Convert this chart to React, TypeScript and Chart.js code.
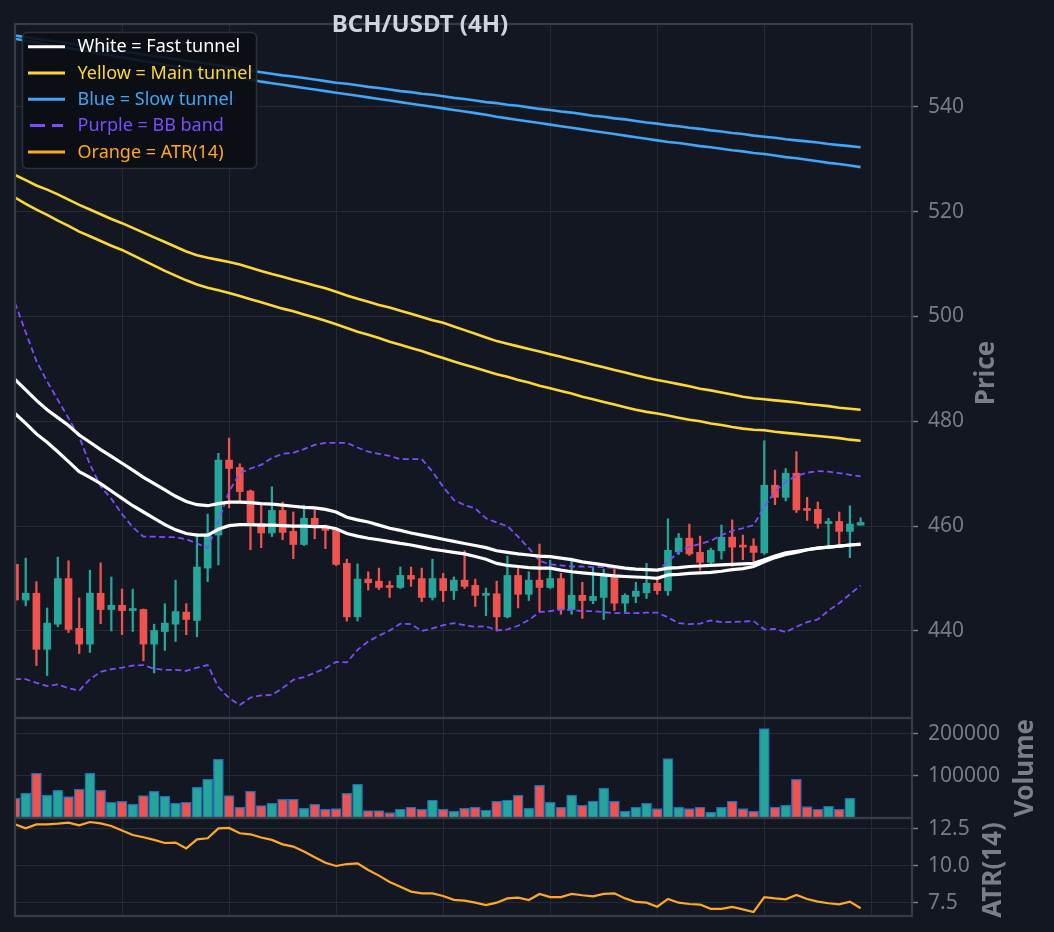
import React, { useEffect, useRef } from "react";
import { Chart, registerables } from "chart.js";

Chart.register(...registerables);

// ---------------- DATA ----------------
const OPEN = [452.7, 445.9, 447.2, 436.5, 441.3, 450.0, 440.5, 437.5, 447.2, 444.1,
  444.9, 443.9, 444.1, 437.5, 439.9, 441.3, 443.6, 442.0, 452.0, 458.3,
  472.6, 471.2, 466.7, 460.5, 458.7, 463.0, 459.0, 456.5, 461.5, 460.0,
  459.4, 452.9, 442.7, 449.9, 449.5, 448.6, 448.3, 450.6, 450.0, 446.4,
  450.0, 447.7, 449.7, 448.7, 446.8, 447.1, 442.7, 450.6, 447.0, 449.7,
  448.3, 450.0, 444.1, 446.8, 445.8, 446.4, 450.4, 445.3, 446.6, 447.3,
  449.1, 447.7, 455.1, 457.7, 455.0, 453.1, 455.3, 457.9, 456.2, 456.2,
  454.9, 467.8, 465.5, 470.1, 463.2, 463.2, 460.5, 460.9, 459.0, 460.2];
const HIGH = [453.5, 453.9, 449.4, 444.4, 454.1, 453.4, 446.3, 451.6, 453.0, 450.3,
  448.0, 448.0, 444.2, 441.3, 445.2, 449.7, 445.2, 458.6, 462.3, 473.9,
  476.8, 471.9, 466.9, 464.0, 467.5, 464.6, 462.7, 464.0, 463.1, 460.2,
  459.6, 453.7, 452.8, 451.3, 452.0, 449.5, 452.2, 452.2, 452.0, 453.7,
  451.0, 450.3, 455.3, 449.9, 448.2, 449.5, 454.3, 452.2, 451.3, 456.6,
  453.5, 451.0, 453.9, 449.3, 452.0, 451.8, 452.0, 447.1, 449.3, 452.9,
  450.4, 461.4, 458.6, 460.4, 458.1, 455.8, 460.2, 461.2, 458.3, 457.6,
  476.3, 470.7, 471.0, 474.2, 465.5, 464.6, 461.5, 462.7, 463.9, 461.6];
const LOW = [445.0, 444.8, 433.4, 431.5, 440.8, 439.7, 435.7, 435.9, 441.4, 440.0,
  439.3, 439.9, 434.3, 432.0, 436.3, 438.0, 439.3, 438.9, 449.4, 452.6,
  463.5, 464.7, 455.5, 455.9, 458.0, 457.4, 453.8, 456.3, 457.6, 455.7,
  452.5, 441.9, 441.9, 447.8, 447.9, 446.4, 448.1, 448.5, 445.6, 445.9,
  445.6, 446.0, 448.1, 444.7, 442.9, 440.2, 442.5, 444.4, 445.8, 443.7,
  448.1, 443.2, 443.2, 442.4, 445.2, 442.2, 443.9, 443.6, 445.4, 446.2,
  447.0, 446.8, 454.6, 454.4, 451.6, 452.7, 453.7, 452.3, 453.6, 453.2,
  454.6, 464.1, 464.8, 462.6, 461.1, 459.6, 456.2, 456.5, 454.0, 460.2];
const CLOSE = [445.9, 447.2, 436.5, 441.5, 450.0, 440.3, 437.5, 447.2, 444.1, 444.9,
  443.9, 444.2, 437.5, 440.1, 441.5, 443.7, 442.2, 452.2, 458.5, 472.6,
  471.0, 466.6, 460.5, 458.7, 463.0, 458.8, 456.5, 461.5, 459.8, 459.2,
  452.7, 442.7, 449.9, 449.2, 448.3, 448.3, 450.6, 449.9, 446.4, 450.0,
  447.7, 449.7, 448.5, 446.8, 447.1, 442.7, 450.6, 447.0, 449.7, 448.3,
  450.0, 444.1, 446.8, 445.8, 446.6, 450.6, 445.3, 446.8, 447.6, 449.1,
  447.7, 455.4, 457.7, 454.7, 453.1, 455.4, 457.9, 456.0, 456.0, 455.0,
  467.8, 465.5, 470.1, 463.1, 463.0, 460.5, 460.9, 459.0, 460.4, 460.7];

const VOLUME = [46800, 58700, 106400, 54000, 65900, 50800, 68300, 106400, 65900, 37300,
  39700, 32500, 53200, 63500, 51600, 34900, 37300, 73000, 92100, 139700,
  53200, 25400, 63500, 29400, 34900, 44400, 44400, 23000, 32500, 20600,
  22200, 58700, 80200, 17500, 17500, 12700, 21400, 25400, 20600, 42900,
  20600, 15900, 23000, 25400, 19000, 39700, 42900, 54000, 23000, 77800,
  37300, 25400, 54000, 30200, 40500, 70600, 39700, 15900, 25400, 34900,
  22200, 141300, 25400, 22200, 25400, 13500, 25400, 39700, 22200, 15900,
  212700, 25400, 30200, 92100, 27000, 20600, 27800, 20600, 46800, 1200];

const ATR = [12.81, 12.54, 12.81, 12.81, 12.86, 12.93, 12.75, 12.97, 12.88, 12.70,
  12.39, 12.09, 11.94, 11.76, 11.55, 11.58, 11.19, 11.80, 11.87, 12.54,
  12.57, 12.21, 12.14, 11.92, 11.76, 11.46, 11.31, 10.97, 10.59, 10.22,
  10.00, 10.13, 10.18, 9.73, 9.35, 8.92, 8.60, 8.27, 8.15, 8.15,
  7.97, 7.71, 7.66, 7.52, 7.36, 7.52, 7.81, 7.86, 7.70, 8.11,
  7.90, 7.90, 8.11, 8.02, 7.95, 8.11, 8.15, 7.81, 7.57, 7.52,
  7.25, 7.77, 7.52, 7.43, 7.39, 7.10, 7.10, 7.23, 7.07, 6.89,
  7.90, 7.81, 7.75, 8.04, 7.77, 7.59, 7.48, 7.41, 7.59, 7.14];

const FAST_UP = [488.0, 486.0, 484.0, 482.2, 480.7, 479.2, 477.4, 476.0, 474.6, 473.3,
  472.0, 470.7, 469.3, 468.1, 466.9, 465.7, 464.7, 464.1, 463.9, 464.3,
  464.6, 464.6, 464.5, 464.3, 464.2, 464.0, 463.8, 463.6, 463.5, 463.2,
  462.7, 461.7, 461.2, 460.8, 460.2, 459.6, 459.2, 458.7, 458.3, 457.9,
  457.5, 457.1, 456.7, 456.3, 455.9, 455.3, 455.0, 454.7, 454.5, 454.3,
  454.2, 453.9, 453.6, 453.2, 452.9, 452.6, 452.3, 452.0, 451.8, 451.7,
  451.6, 452.0, 452.1, 452.3, 452.4, 452.5, 452.6, 452.7, 452.8, 452.9,
  453.6, 454.3, 454.9, 455.2, 455.5, 455.8, 456.0, 456.2, 456.4, 456.6];
const FAST_LO = [481.5, 479.6, 477.6, 476.0, 474.2, 472.3, 470.4, 469.3, 468.1, 466.7,
  465.3, 463.9, 462.7, 461.5, 460.3, 459.3, 458.6, 458.3, 458.3, 459.4,
  460.1, 460.3, 460.3, 460.2, 460.2, 460.1, 460.0, 460.0, 459.9, 459.9,
  459.5, 458.6, 458.1, 457.7, 457.4, 457.05, 456.7, 456.4, 456.0, 455.6,
  455.3, 455.0, 454.7, 454.2, 453.7, 452.9, 452.5, 452.3, 452.1, 452.0,
  452.0, 451.6, 451.3, 451.1, 450.9, 450.7, 450.5, 450.4, 450.3, 450.2,
  450.05, 450.7, 450.8, 451.0, 451.1, 451.2, 451.4, 451.7, 451.9, 452.3,
  453.2, 454.0, 454.6, 455.0, 455.5, 455.8, 456.0, 456.2, 456.4, 456.5];

const MAIN_UP = [527.0, 526.0, 525.0, 524.2, 523.3, 522.3, 521.3, 520.4, 519.5, 518.6,
  517.8, 516.9, 516.0, 515.1, 514.2, 513.3, 512.4, 511.7, 511.2, 510.8,
  510.4, 509.9, 509.3, 508.7, 508.1, 507.6, 507.0, 506.5, 505.9, 505.4,
  504.7, 504.0, 503.4, 502.8, 502.2, 501.7, 501.1, 500.5, 499.9, 499.3,
  498.8, 498.1, 497.4, 496.7, 496.0, 495.3, 494.8, 494.3, 493.8, 493.3,
  492.8, 492.3, 491.8, 491.3, 490.8, 490.3, 489.8, 489.3, 488.8, 488.3,
  487.9, 487.5, 487.1, 486.7, 486.2, 485.9, 485.5, 485.1, 484.7, 484.4,
  484.2, 484.0, 483.8, 483.6, 483.3, 483.1, 482.9, 482.6, 482.4, 482.2];
const MAIN_LO = [522.7, 521.5, 520.4, 519.4, 518.3, 517.3, 516.2, 515.3, 514.4, 513.5,
  512.7, 511.7, 510.7, 509.7, 508.7, 507.8, 506.9, 506.1, 505.5, 505.0,
  504.5, 503.9, 503.3, 502.7, 502.1, 501.5, 501.0, 500.4, 499.8, 499.2,
  498.5, 497.8, 497.1, 496.5, 495.9, 495.2, 494.6, 494.0, 493.4, 492.7,
  492.1, 491.4, 490.8, 490.2, 489.6, 489.0, 488.5, 487.9, 487.4, 486.8,
  486.3, 485.8, 485.3, 484.7, 484.2, 483.7, 483.2, 482.7, 482.2, 481.8,
  481.5, 481.1, 480.7, 480.3, 480.0, 479.6, 479.3, 478.9, 478.6, 478.4,
  478.3, 478.0, 477.8, 477.6, 477.4, 477.2, 477.0, 476.8, 476.5, 476.3];

const SLOW_UP = [553.6, 553.3, 553.0, 552.7, 552.4, 552.1, 551.8, 551.5, 551.2, 550.9,
  550.6, 550.3, 550.0, 549.7, 549.4, 549.1, 548.8, 548.5, 548.2, 547.9,
  547.6, 547.2, 546.9, 546.6, 546.3, 546.0, 545.8, 545.5, 545.2, 544.9,
  544.6, 544.4, 544.1, 543.8, 543.6, 543.3, 543.0, 542.8, 542.5, 542.3,
  542.0, 541.7, 541.5, 541.2, 540.9, 540.7, 540.4, 540.2, 539.9, 539.6,
  539.4, 539.1, 538.9, 538.6, 538.3, 538.1, 537.8, 537.6, 537.3, 537.0,
  536.8, 536.5, 536.3, 536.0, 535.8, 535.5, 535.3, 535.0, 534.8, 534.5,
  534.3, 534.1, 533.8, 533.6, 533.4, 533.2, 532.9, 532.7, 532.5, 532.3];
const SLOW_LO = [553.0, 552.6, 552.3, 551.9, 551.6, 551.2, 550.9, 550.5, 550.1, 549.8,
  549.4, 549.1, 548.7, 548.4, 548.0, 547.7, 547.3, 547.0, 546.6, 546.2,
  545.9, 545.5, 545.2, 544.8, 544.5, 544.2, 543.9, 543.6, 543.3, 543.0,
  542.7, 542.4, 542.1, 541.8, 541.5, 541.2, 540.9, 540.6, 540.3, 540.0,
  539.7, 539.4, 539.1, 538.8, 538.5, 538.1, 537.8, 537.5, 537.2, 536.9,
  536.6, 536.3, 536.0, 535.7, 535.4, 535.1, 534.8, 534.5, 534.2, 533.9,
  533.6, 533.3, 533.1, 532.8, 532.5, 532.3, 532.0, 531.7, 531.5, 531.2,
  531.0, 530.7, 530.4, 530.2, 529.9, 529.6, 529.3, 529.1, 528.8, 528.5];

const BB_UP = [502.6, 497.0, 491.5, 487.6, 484.1, 480.6, 477.0, 471.8, 467.6, 465.2,
  462.3, 459.8, 458.0, 458.0, 457.9, 457.9, 457.5, 456.7, 455.8, 460.9,
  466.6, 470.1, 471.0, 471.7, 473.0, 473.8, 474.0, 474.7, 475.5, 475.9,
  475.9, 475.9, 475.0, 474.2, 473.8, 473.4, 472.8, 472.8, 472.8, 470.4,
  467.5, 465.0, 464.0, 463.4, 461.5, 460.7, 460.0, 458.0, 455.8, 453.4,
  452.7, 452.5, 452.3, 452.3, 452.2, 452.2, 452.0, 451.8, 451.6, 451.6,
  451.6, 453.2, 455.1, 456.1, 456.6, 457.2, 458.3, 459.1, 459.6, 460.2,
  463.7, 466.6, 468.5, 469.6, 470.2, 470.5, 470.4, 470.1, 469.8, 469.5];
const BB_LO = [430.8, 430.8, 430.1, 429.5, 429.8, 429.1, 428.6, 430.8, 432.2, 432.7,
  433.0, 433.4, 433.5, 432.8, 432.6, 432.6, 432.4, 433.0, 433.5, 429.3,
  427.2, 425.9, 427.3, 427.7, 427.8, 429.1, 430.7, 431.2, 432.0, 432.9,
  434.1, 434.0, 436.4, 438.0, 439.1, 440.1, 441.4, 441.3, 440.0, 440.5,
  441.1, 441.5, 441.1, 440.8, 440.9, 440.1, 440.3, 441.0, 442.1, 443.6,
  443.8, 444.1, 444.0, 443.8, 443.8, 443.6, 443.4, 443.4, 443.4, 443.5,
  443.5, 442.6, 441.5, 441.3, 441.4, 442.0, 441.7, 441.7, 441.8, 441.9,
  440.3, 440.4, 439.8, 440.8, 441.7, 442.2, 443.9, 445.3, 447.0, 448.7];

const PRICE_TICKS = [440, 460, 480, 500, 520, 540];
const VOLUME_TICKS = [100000, 200000];
const ATR_TICKS = [7.5, 10.0, 12.5];
const X_GRID = [10, 20, 30, 40, 50, 60, 70, 80];

const TITLE = "BCH/USDT (4H)";
const LEGEND_LABELS = [
  "White = Fast tunnel",
  "Yellow = Main tunnel",
  "Blue = Slow tunnel",
  "Purple = BB band",
  "Orange = ATR(14)",
];

// ---------------- STYLE ----------------
const FONT = "'Noto Sans', 'DejaVu Sans', sans-serif";
const BG = "#131722";
const GRID = "#262a35";
const SPINE = "#383c47";
const TICK = "#787b86";
const AXIS_TITLE = "#7b7e88";
const TEAL = "#26a69a";
const RED = "#ef5350";
const WHITE = "#ffffff";
const YELLOW = "#fdd835";
const BLUE = "#42a5f5";
const PURPLE = "#7c4dff";
const ORANGE = "#ffa726";
const VOL_EDGE = "#1f6fb8";
const LEGEND_COLORS = [WHITE, YELLOW, BLUE, PURPLE, ORANGE];

const X_MIN = 0;
const X_MAX = 83.8;

const IDX = OPEN.map((_, i) => i);
const UP = IDX.map((i) => CLOSE[i] >= OPEN[i]);
const CANDLE_COLORS = UP.map((u) => (u ? TEAL : RED));

function xScale(): any {
  return {
    type: "linear",
    min: X_MIN,
    max: X_MAX,
    offset: false,
    afterBuildTicks: (s: any) => {
      s.ticks = X_GRID.map((v) => ({ value: v }));
    },
    ticks: { display: false },
    grid: { color: GRID, lineWidth: 1, drawTicks: false, offset: false },
    border: { display: false },
    afterFit: (s: any) => {
      s.height = 0;
      s.paddingLeft = 0;
      s.paddingRight = 0;
    },
  };
}

function yScale(min: number, max: number, ticks: number[], fmt: (v: number) => string): any {
  return {
    position: "right",
    min,
    max,
    afterBuildTicks: (s: any) => {
      s.ticks = ticks.map((v) => ({ value: v }));
    },
    ticks: {
      color: TICK,
      font: { family: FONT, size: 21 },
      padding: 10,
      callback: (v: any) => fmt(Number(v)),
    },
    grid: { color: GRID, lineWidth: 1, tickColor: TICK, tickLength: 6, tickWidth: 1.5 },
    border: { display: false },
    afterFit: (s: any) => {
      s.width = 142;
      s.paddingTop = 0;
      s.paddingBottom = 0;
    },
  };
}

function framePlugin(label: string, lx: number, ly: number, extra?: (ctx: CanvasRenderingContext2D) => void): any {
  return {
    id: "frame",
    afterDraw(chart: any) {
      const { ctx, chartArea: a } = chart;
      ctx.save();
      ctx.strokeStyle = SPINE;
      ctx.lineWidth = 2.2;
      ctx.strokeRect(a.left, a.top, a.right - a.left, a.bottom - a.top);
      ctx.translate(lx, ly);
      ctx.rotate(-Math.PI / 2);
      ctx.fillStyle = AXIS_TITLE;
      ctx.font = `bold 26px ${FONT}`;
      ctx.textAlign = "center";
      ctx.textBaseline = "middle";
      ctx.fillText(label, 0, 0);
      ctx.restore();
      if (extra) {
        ctx.save();
        extra(ctx);
        ctx.restore();
      }
    },
  };
}

const legendPlugin: any = {
  id: "customLegend",
  afterDatasetsDraw(chart: any) {
    const ctx: CanvasRenderingContext2D = chart.ctx;
    ctx.save();
    ctx.beginPath();
    (ctx as any).roundRect(22.5, 32.5, 234, 136, 5);
    ctx.fillStyle = "rgba(11,13,19,0.9)";
    ctx.fill();
    ctx.strokeStyle = "#2c303b";
    ctx.lineWidth = 1.5;
    ctx.stroke();
    LEGEND_LABELS.forEach((lab, k) => {
      const y = 46.7 + k * 26.3;
      ctx.strokeStyle = LEGEND_COLORS[k];
      ctx.lineWidth = 3;
      ctx.beginPath();
      if (k === 3) {
        ctx.setLineDash([15, 7]);
        ctx.moveTo(30, y);
        ctx.lineTo(63, y);
      } else {
        ctx.setLineDash([]);
        ctx.moveTo(28, y);
        ctx.lineTo(65, y);
      }
      ctx.stroke();
      ctx.setLineDash([]);
      ctx.fillStyle = LEGEND_COLORS[k];
      ctx.font = `18px ${FONT}`;
      ctx.textAlign = "left";
      ctx.textBaseline = "middle";
      ctx.fillText(lab, 77.5, y + 0.5);
    });
    ctx.restore();
  },
};

function lineDs(values: number[], color: string, width: number, dash?: number[]): any {
  return {
    type: "line",
    data: IDX.map((i) => ({ x: i, y: values[i] })),
    borderColor: color,
    borderWidth: width,
    borderDash: dash || [],
    pointRadius: 0,
    tension: 0,
    fill: false,
    order: 0,
  };
}

const commonOpts = (padding: any) => ({
  responsive: false,
  animation: false,
  events: [],
  layout: { padding },
  plugins: { legend: { display: false }, tooltip: { enabled: false }, title: { display: false } },
});

export default function App() {
  const r1 = useRef<HTMLCanvasElement>(null);
  const r2 = useRef<HTMLCanvasElement>(null);
  const r3 = useRef<HTMLCanvasElement>(null);

  useEffect(() => {
    Chart.defaults.font.family = FONT;

    const priceChart = new Chart(r1.current as HTMLCanvasElement, {
      type: "bar",
      data: {
        datasets: [
          lineDs(FAST_UP, WHITE, 3.2),
          lineDs(FAST_LO, WHITE, 3.2),
          lineDs(MAIN_UP, YELLOW, 2.6),
          lineDs(MAIN_LO, YELLOW, 2.6),
          lineDs(SLOW_UP, BLUE, 2.6),
          lineDs(SLOW_LO, BLUE, 2.6),
          lineDs(BB_UP, PURPLE, 1.8, [6, 3.5]),
          lineDs(BB_LO, PURPLE, 1.8, [6, 3.5]),
          {
            type: "bar",
            data: IDX.map((i) => ({ x: i, y: [OPEN[i], CLOSE[i]] })),
            backgroundColor: CANDLE_COLORS,
            borderColor: CANDLE_COLORS,
            borderWidth: 0,
            borderSkipped: false,
            barThickness: 7,
            minBarLength: 2,
            grouped: false,
            order: 1,
          },
          {
            type: "bar",
            data: IDX.map((i) => ({ x: i, y: [LOW[i], HIGH[i]] })),
            backgroundColor: CANDLE_COLORS,
            borderWidth: 0,
            barThickness: 1.6,
            minBarLength: 1,
            grouped: false,
            order: 2,
          },
        ] as any,
      },
      options: {
        ...commonOpts({ left: 15, right: 0, top: 24, bottom: 22 }),
        scales: {
          x: xScale(),
          y: yScale(423.4, 555.8, PRICE_TICKS, (v) => String(v)),
        },
      } as any,
      plugins: [
        legendPlugin,
        framePlugin("Price", 987, 373, (ctx) => {
          ctx.fillStyle = "#d1d4dc";
          ctx.font = `bold 24px ${FONT}`;
          ctx.textAlign = "center";
          ctx.textBaseline = "alphabetic";
          ctx.fillText(TITLE, 420, 32);
        }),
      ],
    });

    const volChart = new Chart(r2.current as HTMLCanvasElement, {
      type: "bar",
      data: {
        datasets: [
          {
            data: IDX.map((i) => ({ x: i, y: VOLUME[i] })),
            backgroundColor: CANDLE_COLORS,
            borderColor: VOL_EDGE,
            borderWidth: 1.3,
            borderSkipped: false,
            barThickness: 10,
            grouped: false,
          },
        ] as any,
      },
      options: {
        ...commonOpts({ left: 15, right: 0, top: 18, bottom: 22 }),
        scales: {
          x: xScale(),
          y: yScale(0, 238000, VOLUME_TICKS, (v) => String(v)),
        },
      } as any,
      plugins: [framePlugin("Volume", 1026, 68)],
    });

    const atrChart = new Chart(r3.current as HTMLCanvasElement, {
      type: "line",
      data: {
        datasets: [lineDs(ATR, ORANGE, 2.2)],
      },
      options: {
        ...commonOpts({ left: 15, right: 0, top: 18, bottom: 16 }),
        scales: {
          x: xScale(),
          y: yScale(6.62, 13.24, ATR_TICKS, (v) => v.toFixed(1)),
        },
      } as any,
      plugins: [framePlugin("ATR(14)", 994, 70)],
    });

    return () => {
      priceChart.destroy();
      volChart.destroy();
      atrChart.destroy();
    };
  }, []);

  const cv = (top: number, h: number): React.CSSProperties => ({
    position: "absolute",
    left: 0,
    top,
    width: 1054,
    height: h,
    display: "block",
  });

  return (
    <div
      style={{
        position: "fixed",
        left: 0,
        top: 0,
        width: 1054,
        height: 932,
        background: BG,
        overflow: "hidden",
      }}
    >
      <canvas ref={r1} width={1054} height={740} style={cv(0, 740)} />
      <canvas ref={r2} width={1054} height={140} style={cv(700, 140)} />
      <canvas ref={r3} width={1054} height={132} style={cv(800, 132)} />
    </div>
  );
}
